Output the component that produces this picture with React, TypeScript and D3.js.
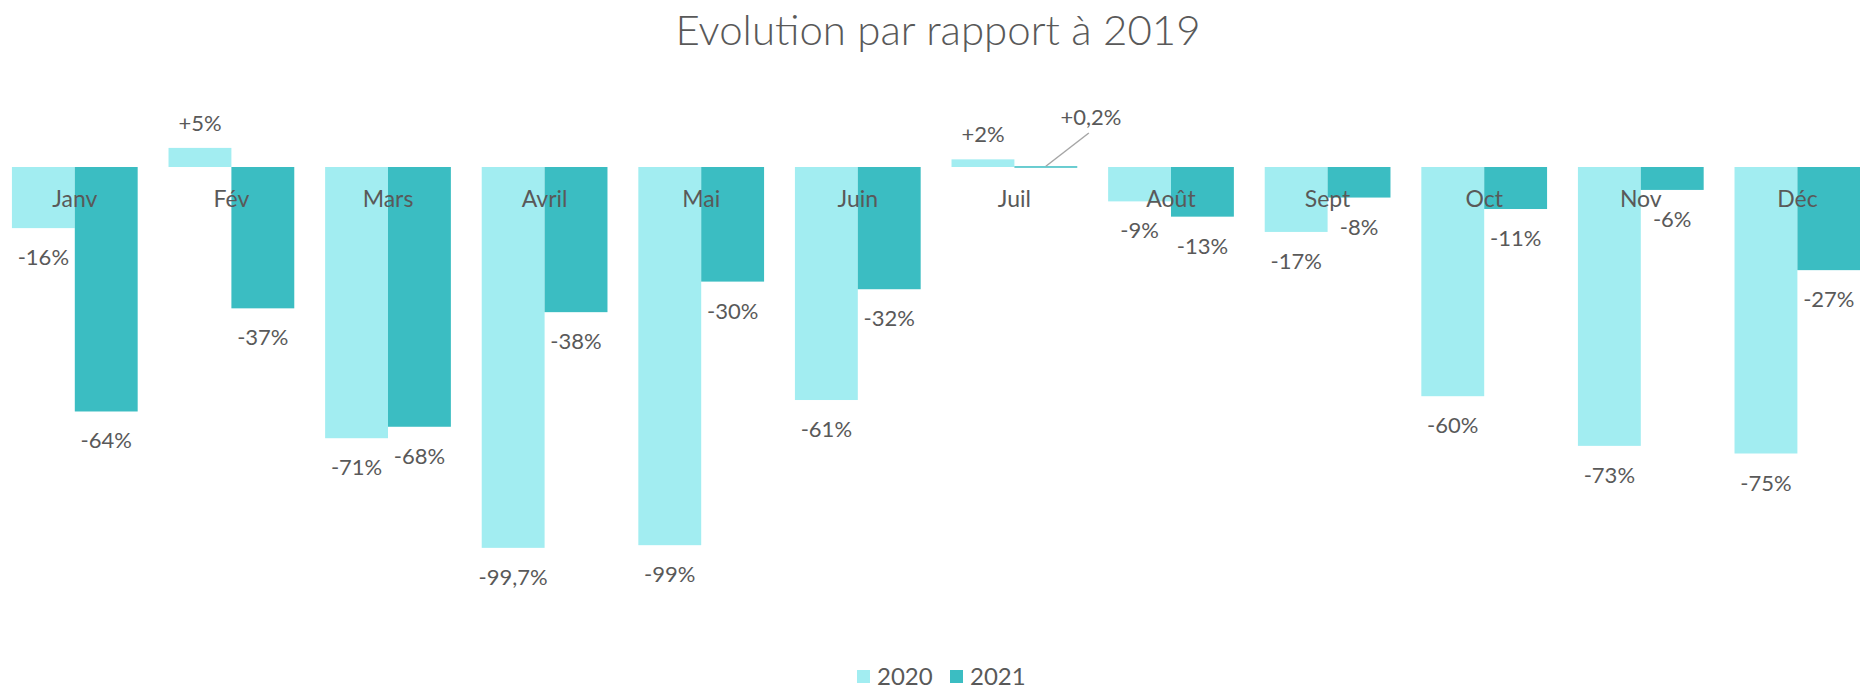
import React, { useRef, useEffect } from 'react';
import * as d3 from 'd3';

const months = ['Janv', 'Fév', 'Mars', 'Avril', 'Mai', 'Juin', 'Juil', 'Août', 'Sept', 'Oct', 'Nov', 'Déc'];
const series = ['2020', '2021'];
const values2020 = [-16, 5, -71, -99.7, -99, -61, 2, -9, -17, -60, -73, -75];
const values2021 = [-64, -37, -68, -38, -30, -32, 0.2, -13, -8, -11, -6, -27];

const colors: Record<string, string> = { '2020': '#A2EDF1', '2021': '#3BBDC2' };
const textColor = '#595959';

const fmt = (v: number) => (v > 0 ? '+' : '') + String(v).replace('.', ',') + '%';

export default function App() {
  const svgRef = useRef<SVGSVGElement>(null);

  useEffect(() => {
    document.body.style.margin = '0';
    if (!svgRef.current) return;
    const svg = d3.select(svgRef.current);
    svg.selectAll('*').remove();

    const width = 1860;
    const height = 691;
    svg.attr('width', width).attr('height', height);

    const rows = months.map((m, i) => ({ month: m, '2020': values2020[i], '2021': values2021[i] }));

    const x = d3.scaleBand().domain(months).range([-3.5, 1875.7]).paddingInner(0.197).paddingOuter(0.0985);
    const xs = d3.scaleBand().domain(series).range([0, x.bandwidth()]);
    const y = d3.scaleLinear().domain([-100, 0]).range([549, 167]);

    // title
    svg.append('text')
      .attr('x', width / 2 + 8)
      .attr('y', 45)
      .attr('text-anchor', 'middle')
      .attr('font-family', 'Lato')
      .attr('font-weight', 300)
      .attr('font-size', 42)
      .attr('fill', textColor)
      .text('Evolution par rapport à 2019');

    const g = svg.append('g');

    // bars
    series.forEach((s) => {
      g.selectAll(`.bar-${s}`)
        .data(rows)
        .enter()
        .append('rect')
        .attr('x', (d) => x(d.month)! + xs(s)!)
        .attr('width', xs.bandwidth())
        .attr('y', (d: any) => y(Math.max(0, d[s])))
        .attr('height', (d: any) => Math.max(1.5, Math.abs(y(d[s]) - y(0))))
        .attr('fill', colors[s]);
    });

    // category labels
    g.selectAll('.cat')
      .data(months)
      .enter()
      .append('text')
      .attr('x', (d) => x(d)! + x.bandwidth() / 2)
      .attr('y', 207)
      .attr('text-anchor', 'middle')
      .attr('font-family', 'Lato')
      .attr('font-size', 23)
      .attr('fill', textColor)
      .text((d) => d);

    // value labels
    series.forEach((s) => {
      g.selectAll(`.lbl-${s}`)
        .data(rows)
        .enter()
        .append('text')
        .attr('x', (d: any) => {
          const cx = x(d.month)! + xs(s)! + xs.bandwidth() / 2;
          return d.month === 'Juil' && s === '2021' ? cx + 45 : cx;
        })
        .attr('y', (d: any) => {
          const v = d[s];
          if (d.month === 'Juil' && s === '2021') return 125;
          return v >= 0 ? y(v) - 17 : y(v) + 37;
        })
        .attr('text-anchor', 'middle')
        .attr('font-family', 'Lato')
        .attr('font-size', 22)
        .attr('fill', textColor)
        .text((d: any) => fmt(d[s]));
    });

    // leader line for +0,2%
    const jx = x('Juil')! + xs('2021')! + xs.bandwidth() / 2;
    g.append('line')
      .attr('x1', jx)
      .attr('y1', y(0.2))
      .attr('x2', jx + 43)
      .attr('y2', 133)
      .attr('stroke', '#A6A6A6')
      .attr('stroke-width', 1.5);

    // legend
    const legend = svg.append('g').attr('transform', 'translate(857,670)');
    series.forEach((s, i) => {
      const lg = legend.append('g').attr('transform', `translate(${i * 93},0)`);
      lg.append('rect').attr('width', 13).attr('height', 13).attr('fill', colors[s]);
      lg.append('text')
        .attr('x', 20)
        .attr('y', 15)
        .attr('font-family', 'Lato')
        .attr('font-size', 24)
        .attr('fill', textColor)
        .text(s);
    });
  }, []);

  return (
    <div style={{ width: 1860, height: 691, background: '#ffffff' }}>
      <svg ref={svgRef} style={{ display: 'block' }} />
    </div>
  );
}
